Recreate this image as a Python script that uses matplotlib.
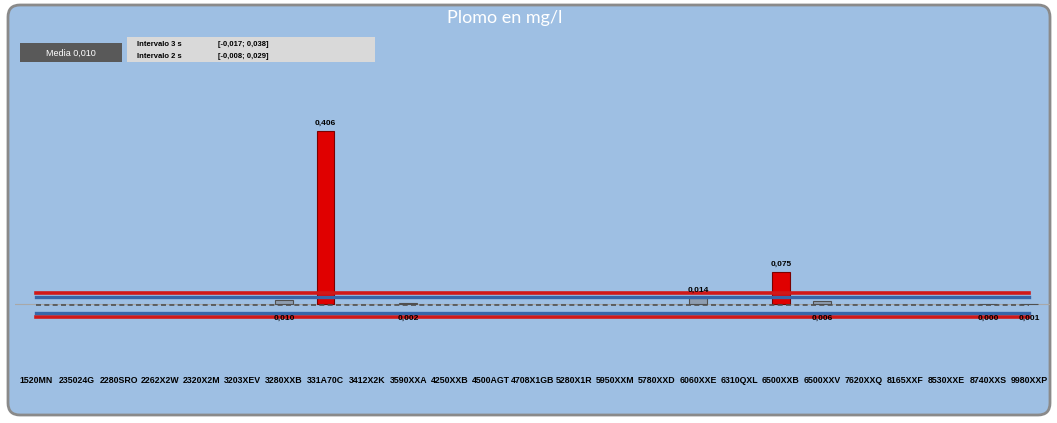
import numpy as np
import matplotlib
matplotlib.use("Agg")
import matplotlib.pyplot as plt
from matplotlib.patches import FancyBboxPatch, Rectangle
from matplotlib.transforms import IdentityTransform

# data
categorias = ["1520MN", "235024G", "2280SRO", "2262X2W", "2320X2M", "3203XEV",
              "3280XXB", "331A70C", "3412X2K", "3590XXA", "4250XXB", "4500AGT",
              "4708X1GB", "5280X1R", "5950XXM", "5780XXD", "6060XXE", "6310QXL",
              "6500XXB", "6500XXV", "7620XXQ", "8165XXF", "8530XXE", "8740XXS",
              "9980XXP"]
plomo = [np.nan, np.nan, np.nan, np.nan, np.nan, np.nan,
         0.010, 0.406, np.nan, 0.002, np.nan, np.nan,
         np.nan, np.nan, np.nan, np.nan, 0.014, np.nan,
         0.075, 0.006, np.nan, np.nan, np.nan, 0.000,
         0.001]
media = 0.010
int3s = (-0.017, 0.038)
int2s = (-0.008, 0.029)

# colours of the small bars
claras = ["3590XXA", "9980XXP"]

W, H = 1057, 423
fig = plt.figure(figsize=(W / 100, H / 100), dpi=100)
fig.patch.set_facecolor("white")

def fx(x):
    return x / W

def fy(y):
    return 1 - y / H

def coma(v):
    return f"{v:.3f}".replace(".", ",")

# rounded blue frame
marco = FancyBboxPatch((8, 8), 1042, 410, boxstyle="round,pad=0,rounding_size=12",
                       transform=IdentityTransform(), facecolor="#9EBFE3",
                       edgecolor="#8A8A8A", linewidth=2, zorder=-1)
fig.patches.append(marco)

fig.text(fx(505), fy(18), "Plomo en mg/l", color="white", fontsize=13,
         family="Lato", ha="center", va="center")

# "Media" box
fig.add_artist(Rectangle((fx(20), fy(62)), fx(102), 19 / H, transform=fig.transFigure,
                         facecolor="#595959", edgecolor="none"))
fig.text(fx(71), fy(53), "Media " + coma(media), color="white", fontsize=6.5,
         ha="center", va="center", family="Liberation Sans")
# interval box
fig.add_artist(Rectangle((fx(127), fy(62)), fx(248), 25 / H, transform=fig.transFigure,
                         facecolor="#D9D9D9", edgecolor="none"))
fig.text(fx(137), fy(45), "Intervalo 3 s", fontsize=5.5, weight="bold", va="center",
         family="Liberation Sans")
fig.text(fx(218), fy(45), "[" + coma(int3s[0]) + "; " + coma(int3s[1]) + "]",
         fontsize=5.5, weight="bold", va="center", family="Liberation Sans")
fig.text(fx(137), fy(56), "Intervalo 2 s", fontsize=5.5, weight="bold", va="center",
         family="Liberation Sans")
fig.text(fx(218), fy(56), "[" + coma(int2s[0]) + "; " + coma(int2s[1]) + "]",
         fontsize=5.5, weight="bold", va="center", family="Liberation Sans")

# axes: x from 15 to 1050 px, y from 70 to 370 px
ax = fig.add_axes([fx(15), fy(370), fx(1035), 300 / H])
ax.patch.set_alpha(0)
x = np.arange(len(categorias))
escala = 426.0  # px per mg/l
ax.set_ylim(-66 / escala, 234 / escala)
ax.set_xlim(-0.5, len(categorias) - 0.5)

colores = []
for c, v in zip(categorias, plomo):
    if v > int3s[1]:
        colores.append("#E00000")
    elif c in claras:
        colores.append("#E4EDD3")
    else:
        colores.append("#8E9DB0")
bordes = ["#7A0000" if v > int3s[1] else "#505050" for v in plomo]
ax.bar(x, plomo, width=0.43, color=colores, edgecolor=bordes, linewidth=0.8, zorder=3)
ax.axhline(0, color="#A8A8A8", linewidth=0.8, zorder=1)

ax.set_xticks(x)
ax.set_xticklabels(categorias, fontsize=6.3, weight="bold", family="Liberation Sans")
ax.tick_params(axis="x", length=0, pad=4)
ax.set_yticks([])
for s in ax.spines.values():
    s.set_visible(False)

# control lines on a secondary axis
ax2 = ax.twinx()
ax2.patch.set_alpha(0)
esc2 = 440.0
ax2.set_ylim(media - 65 / esc2, media + 235 / esc2)
x0, x1 = 0, len(categorias) - 1
ax2.plot([x0, x1], [int3s[1]] * 2, color="#D01818", linewidth=2.6)
ax2.plot([x0, x1], [int3s[0]] * 2, color="#D01818", linewidth=2.6)
ax2.plot([x0, x1], [int2s[1]] * 2, color="#3766A8", linewidth=2.4)
ax2.plot([x0, x1], [int2s[0]] * 2, color="#3766A8", linewidth=2.4)
ax2.plot([x0, x1], [media] * 2, color="#505050", linewidth=1.2, linestyle=(0, (3, 2)))
ax2.set_yticks([])
for s in ax2.spines.values():
    s.set_visible(False)

# data labels drawn last so they sit on top of the lines
for i, v in enumerate(plomo):
    if np.isnan(v):
        continue
    if v > media:
        ax2.annotate(coma(v), (i, v), xycoords=ax.transData, xytext=(0, 3),
                     textcoords="offset points", ha="center", va="bottom",
                     fontsize=6, weight="bold", family="Liberation Sans")
    else:
        ax2.annotate(coma(v), (i, 0), xycoords=ax.transData, xytext=(0, -8),
                     textcoords="offset points", ha="center", va="top",
                     fontsize=6, weight="bold", family="Liberation Sans")

fig.savefig("out.png", dpi=100)
